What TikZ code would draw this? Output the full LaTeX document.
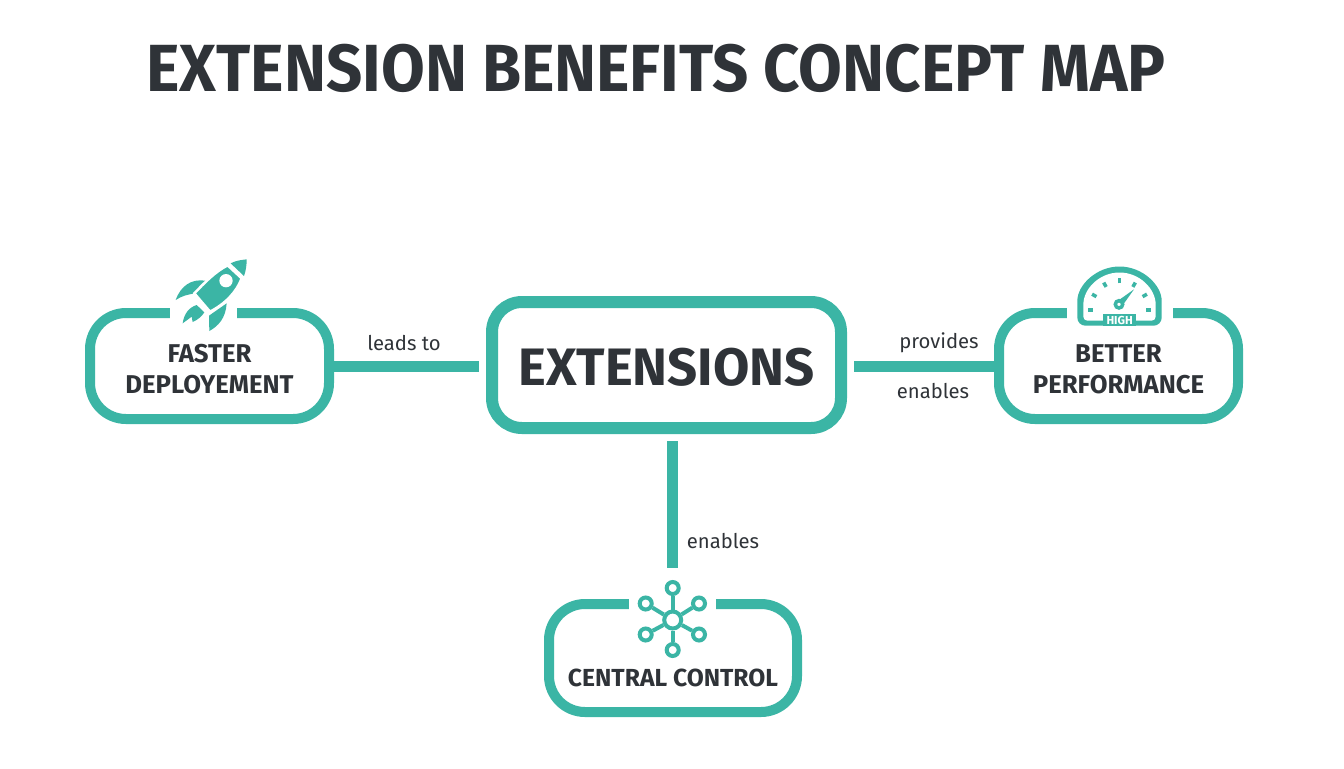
\documentclass[tikz,border=0pt]{standalone}
\usepackage{fontspec}
\setmainfont{Fira Sans}
\definecolor{teal1}{HTML}{3BB5A5}
\definecolor{ink}{HTML}{2F3338}
\newcommand{\px}{.75pt}
\newcommand{\lowerstrut}{\rule{0pt}{18pt}}
\tikzset{
  conceptbox/.style={draw=teal1,fill=white,line width=10*\px,rounded corners=36*\px,
    text=ink,align=center,inner sep=0pt,font=\fontsize{19.3}{23.3}\selectfont\bfseries},
  link/.style={draw=teal1,line width=11*\px},
  linklabel/.style={text=ink,inner sep=0pt,font=\fontsize{15.2}{18}\selectfont},
  gapmask/.style={fill=white,inner sep=0pt,minimum height=24*\px},
  satdot/.style={circle,draw=teal1,fill=white,line width=4*\px,minimum size=12*\px,inner sep=0pt},
}
\begin{document}
\begin{tikzpicture}[x=.75pt,y=-.75pt]
  \useasboundingbox (0,0) rectangle (1344,768);
  \node[text=ink,inner sep=0pt,transform shape,xscale=.951,font=\fontsize{50}{50}\selectfont\bfseries] (title) at (656,68) {EXTENSION BENEFITS CONCEPT MAP};
  % boxes
  \node[conceptbox,minimum width=349*\px,minimum height=126*\px,line width=12*\px,rounded corners=30*\px,text height=40*\px,text depth=0pt,font=\fontsize{39.5}{39.5}\selectfont\bfseries] (extensions) at (666.5,365) {EXTENSIONS};
  \node[conceptbox,minimum width=239*\px,minimum height=106*\px] (faster) at (209.5,366) {\lowerstrut FASTER\\DEPLOYEMENT};
  \node[conceptbox,minimum width=239*\px,minimum height=106*\px] (better) at (1118.5,366) {\lowerstrut BETTER\\PERFORMANCE};
  \node[conceptbox,minimum width=248*\px,minimum height=108*\px,text height=56*\px,text depth=0pt,font=\fontsize{18.5}{23}\selectfont\bfseries] (central) at (673,658) {CENTRAL CONTROL};
  % gaps in the top edges
  \node[gapmask,minimum width=67*\px] (rocketgap) at (203.5,313) {};
  \node[gapmask,minimum width=106*\px] (gaugegap) at (1120,313) {};
  \node[gapmask,minimum width=87*\px] (hubgap) at (672.5,604) {};
  % rocket
  \begin{scope}[shift={(80,250)},scale=1/3]
    \fill[teal1] (376,92) .. controls (335,86) and (303,106) .. (287,150) .. controls (305,138) and (325,132) .. (350,130) -- cycle;
    \fill[teal1] (440,160) -- (387,197) -- (388,243) .. controls (415,228) and (437,205) .. cycle;
    \fill[teal1] (350,165) .. controls (328,172) and (312,190) .. (308,220) -- (335,200) -- (338,216) .. controls (352,210) and (365,200) .. (373,187) -- cycle;
    \filldraw[teal1,draw=white,line width=2.5*\px] (443,46) .. controls (405,65) and (372,100) .. (343,130) -- (390,185) .. controls (438,160) and (470,125) .. (485,85) -- cycle;
    \fill[teal1] (500,28) .. controls (480,30) and (465,33) .. (452,40) -- (492,78) .. controls (498,62) and (500,45) .. cycle;
    \fill[white] (438,92) circle (20);
  \end{scope}
  % gauge
  \begin{scope}[shift={(980,250)},scale=1/3]
    \fill[teal1,rounded corners=6pt] (292,227) -- (292,176) arc (180:360:126.5) -- (545,227) -- cycle;
    \fill[white,rounded corners=3pt] (310,212) -- (310,176) arc (180:360:108.5) -- (527,212) -- cycle;
    \foreach \a in {0,30,60,90,120,150,180}
      \draw[teal1,line width=3.5*\px] (418.5,180) ++(-\a:80) -- ++(-\a:15);
    \fill[teal1] (462,118) -- (410,155) -- (425,170) -- cycle;
    \draw[teal1,line width=3.5*\px,fill=white] (417,163) circle (11);
    \node[fill=teal1,text=white,inner sep=0pt,minimum width=33*\px,minimum height=11.5*\px,font=\fontsize{8.7}{9}\selectfont\bfseries] (high) at (419,210) {HIGH};
  \end{scope}
  % hub
  \node[satdot,minimum size=17*\px] (hub) at (672.7,620) {};
  \node[satdot] (sat1) at (672.7,588) {};
  \node[satdot] (sat2) at (699,603.5) {};
  \node[satdot] (sat3) at (699,634.5) {};
  \node[satdot] (sat4) at (672.7,650) {};
  \node[satdot] (sat5) at (645.7,634.5) {};
  \node[satdot] (sat6) at (645.7,603.5) {};
  \foreach \n in {1,...,6}
    \draw[teal1,line width=4*\px] (hub) -- (sat\n);
  % links
  \draw[link,shorten >=7*\px] (faster.east) -- (faster.east -| extensions.west);
  \draw[link,shorten <=7*\px] (better.west -| extensions.east) -- (better.west);
  \draw[link,shorten <=7*\px,shorten >=12*\px] (sat1.north |- extensions.south) -- (sat1.north);
  \node[linklabel] (leads) at (404,343) {leads to};
  \node[linklabel] (provides) at (939,342.5) {provides};
  \node[linklabel] (enables1) at (933,391) {enables};
  \node[linklabel] (enables2) at (723,541.5) {enables};
\end{tikzpicture}
\end{document}
